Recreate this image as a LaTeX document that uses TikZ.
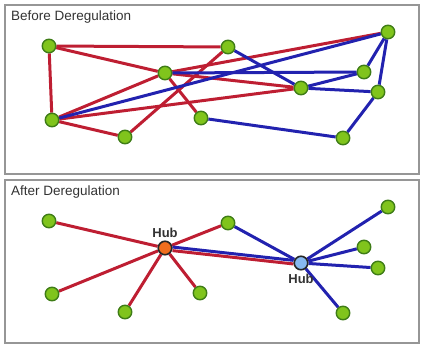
\documentclass[tikz,border=0pt]{standalone}
\usepackage{fontspec}
\setmainfont{Liberation Sans}
\usetikzlibrary{backgrounds}
\definecolor{linkred}{RGB}{190,30,50}
\definecolor{linkblue}{RGB}{34,34,175}
\definecolor{citygreen}{RGB}{128,196,28}
\definecolor{cityrim}{RGB}{62,124,22}
\definecolor{framegray}{RGB}{150,150,150}
\definecolor{hubblue}{RGB}{135,185,240}
\definecolor{huborange}{RGB}{240,110,30}
\tikzset{city/.style={circle,draw=cityrim,fill=citygreen,line width=1.4pt,
       minimum size=13.5pt,inner sep=0},
     hubcity/.style={city,draw=black!85,line width=1.6pt},
     redlink/.style={draw=linkred,line width=3pt},
     bluelink/.style={draw=linkblue,line width=3pt},
     panel/.style={draw=framegray,line width=1.6pt},
     paneltitle/.style={anchor=west,inner sep=0,text=black!80,
       font=\fontsize{13.5}{14}\selectfont},
     hublabel/.style={inner sep=0,text=black!80,
       font=\bfseries\fontsize{13}{14}\selectfont}
}

\begin{document}
\begin{tikzpicture}[x=1pt,y=-1pt]
    \useasboundingbox (0,0) rectangle (422,350);
    % panels
    \draw[panel] (5,5) rectangle (419,174);
    \draw[panel] (5,180) rectangle (419,343);
    \node[paneltitle] (before) at (11,17) {Before Deregulation};
    \node[paneltitle] (after) at (11,192) {After Deregulation};

    % before: cities
    \node[city] (a) at (49,46) {};
    \node[city] (b) at (125,137) {};
    \node[city] (c) at (52,120) {};
    \node[city] (d) at (165,73) {};
    \node[city] (e) at (201,118) {};
    \node[city] (f) at (228,47) {};
    \node[city] (g) at (301,88) {};
    \node[city] (h) at (343,138) {};
    \node[city] (i) at (364,72) {};
    \node[city] (j) at (378,92) {};
    \node[city] (k) at (388,32) {};

    \begin{scope}[on background layer]
      \draw[redlink] (a) -- (f);
      \draw[redlink] (a) -- (d);
      \draw[redlink] (a) -- (c);
      \draw[redlink] (c) -- (d);
      \draw[redlink] (c) -- (b);
      \draw[redlink] (c) -- (g);
      \draw[redlink] (b) -- (f);
      \draw[redlink] (d) -- (e);
      \draw[redlink] (d) -- (g);
      \draw[redlink] (d) -- (k);
      \draw[bluelink] (c) -- (k);
      \draw[bluelink] (d) -- (i);
      \draw[bluelink] (f) -- (g);
      \draw[bluelink] (g) -- (i);
      \draw[bluelink] (g) -- (j);
      \draw[bluelink] (e) -- (h);
      \draw[bluelink] (k) -- (i);
      \draw[bluelink] (k) -- (j);
      \draw[bluelink] (j) -- (h);
    \end{scope}

    % after: two hubs
    \node[hubcity,fill=huborange] (hubw) at (165,248) {};
    \node[hubcity,fill=hubblue] (hube) at (301,263) {};
    \node[hublabel,above=3pt] (hubwlabel) at (hubw.north) {Hub};
    \node[hublabel,below=3pt] (hubelabel) at (hube.south) {Hub};

    \node[city] (aa) at (49,221) {};
    \node[city] (ab) at (52,294) {};
    \node[city] (ac) at (125,312) {};
    \node[city] (ad) at (200,293) {};
    \node[city] (ae) at (228,223) {};
    \node[city] (af) at (388,207) {};
    \node[city] (ag) at (364,247) {};
    \node[city] (ah) at (378,268) {};
    \node[city] (ai) at (343,313) {};

    \begin{scope}[on background layer]
      \foreach \n in {aa,ab,ac,ad,ae}
        \draw[redlink] (hubw) -- (\n);
      \foreach \n in {ae,af,ag,ah,ai}
        \draw[bluelink] (hube) -- (\n);
      \draw[bluelink,transform canvas={yshift=1.8pt}] (hubw) -- (hube);
      \draw[redlink,transform canvas={yshift=-1.8pt}] (hubw) -- (hube);
    \end{scope}
\end{tikzpicture}
\end{document}
